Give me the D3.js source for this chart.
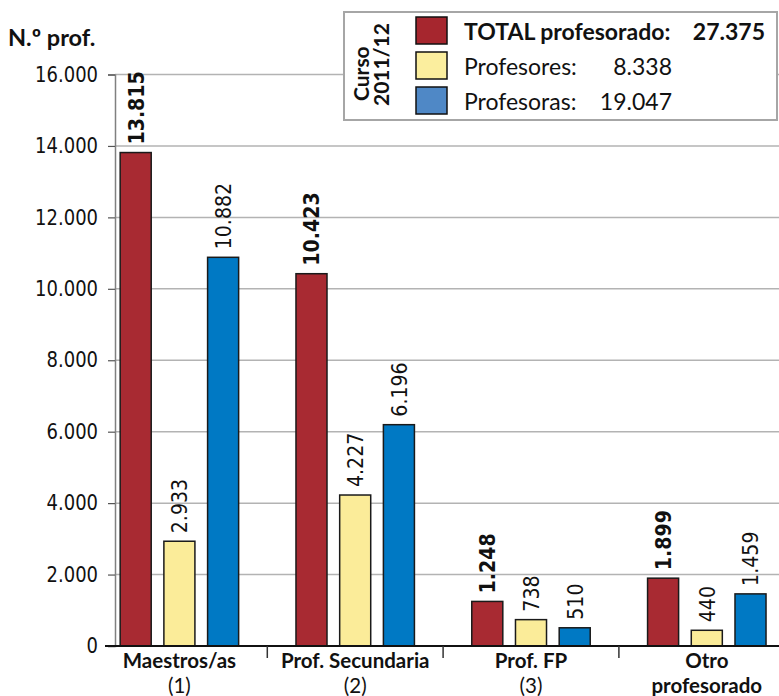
<!DOCTYPE html>
<html><head><meta charset="utf-8">
<script src="https://cdn.jsdelivr.net/npm/d3@7"></script>
<style>html,body{margin:0;padding:0;background:#fff;} svg{display:block;}</style>
</head><body><svg id="chart" width="779" height="696"></svg>
<script>
// ---- data ----
const categories = ["Maestros/as", "Prof. Secundaria", "Prof. FP", "Otro"];
const categorySub = ["(1)", "(2)", "(3)", "profesorado"];
const seriesNames = ["TOTAL profesorado:", "Profesores:", "Profesoras:"];
const totalValues = [13815, 10423, 1248, 1899];
const profesoresValues = [2933, 4227, 738, 440];
const profesorasValues = [10882, 6196, 510, 1459];
const legendValues = ["27.375", "8.338", "19.047"];
const yTicks = [0, 2000, 4000, 6000, 8000, 10000, 12000, 14000, 16000];
const yTitle = "N.º prof.";
const legendTitle = ["Curso", "2011/12"];

// ---- styles ----
const barColors = ["#A82A32", "#FBEC99", "#0079C4"];
const legendColors = ["#A6262E", "#FBEE9E", "#4F88C6"];
const W = 779, H = 696;
const S = 1.15; // glyph vertical stretch seen in reference
const calibri = "Lato, 'Open Sans', sans-serif";
const dejavu = "'DejaVu Sans', Verdana, sans-serif";

const locale = d3.formatLocale({decimal: ",", thousands: ".", grouping: [3], currency: ["", ""]});
const fmt = locale.format(",d");

const svg = d3.select("#chart");
const series = [totalValues, profesoresValues, profesorasValues];

const y = d3.scaleLinear().domain([0, 16000]).range([646, 74.5]);
const x = d3.scaleBand().domain(categories).range([91.5, 794.7]);
const xi = d3.scaleBand().domain([0, 1, 2]).range([0, x.bandwidth()]).paddingInner(0.29).paddingOuter(0.656);
const axisX = 115;

// gridlines
svg.append("g").selectAll("line").data(yTicks.filter(d => d > 0)).join("line")
  .attr("x1", axisX).attr("x2", W).attr("y1", d => y(d)).attr("y2", d => y(d))
  .attr("stroke", "#b3b3b3").attr("stroke-width", 1.5);

// y axis
const yAxis = d3.axisLeft(y).tickValues(yTicks).tickSize(7).tickPadding(10).tickFormat(d => fmt(d));
const gy = svg.append("g").attr("transform", `translate(${axisX},0)`).call(yAxis);
gy.select(".domain").attr("stroke", "#808080").attr("stroke-width", 1.5);
gy.selectAll(".tick line").attr("stroke", "#555").attr("stroke-width", 1.2);
gy.selectAll(".tick text").attr("font-family", dejavu).attr("font-size", 18).attr("fill", "#111")
  .attr("transform", `scale(1,${S})`);

// bars
series.forEach((vals, si) => {
  svg.append("g").selectAll("rect").data(categories).join("rect")
    .attr("x", (c) => x(c) + xi(si))
    .attr("width", xi.bandwidth())
    .attr("y", (c, i) => y(vals[i]))
    .attr("height", (c, i) => y(0) - y(vals[i]))
    .attr("fill", barColors[si]).attr("stroke", "#1a1a1a").attr("stroke-width", 1.5);
  svg.append("g").selectAll("text").data(categories).join("text")
    .attr("transform", (c, i) => `translate(${x(c) + xi(si) + xi.bandwidth() / 2},${y(vals[i]) - 8}) rotate(-90) scale(1,${S})`)
    .attr("dy", "0.36em")
    .attr("font-family", dejavu).attr("font-size", 19)
    .attr("font-weight", si === 0 ? "bold" : "normal")
    .attr("fill", "#111")
    .text((c, i) => fmt(vals[i]));
});

// baseline
svg.append("line").attr("x1", 105).attr("x2", W).attr("y1", y(0)).attr("y2", y(0))
  .attr("stroke", "#111").attr("stroke-width", 2);

// category separators
svg.append("g").selectAll("line").data(categories.slice(1)).join("line")
  .attr("x1", c => x(c)).attr("x2", c => x(c)).attr("y1", y(0)).attr("y2", y(0) + 12)
  .attr("stroke", "#333").attr("stroke-width", 1.5);

// category labels
const cl = svg.append("g").selectAll("text").data(categories).join("text")
  .attr("x", c => x(c) + x.bandwidth() / 2).attr("text-anchor", "middle")
  .attr("font-family", calibri).attr("font-size", 20.5).attr("fill", "#111");
cl.append("tspan").attr("y", 667.5).attr("font-weight", "bold").text(c => c);
cl.append("tspan").attr("x", c => x(c) + x.bandwidth() / 2).attr("y", 692.5)
  .attr("font-weight", (c, i) => i === 3 ? "bold" : "normal").text((c, i) => categorySub[i]);

// y title
svg.append("text").attr("x", 8).attr("y", 46).attr("font-family", calibri)
  .attr("font-size", 23.5).attr("font-weight", "bold").attr("fill", "#111").text(yTitle);

// legend
const lg = svg.append("g");
lg.append("rect").attr("x", 344).attr("y", 12).attr("width", 433).attr("height", 108)
  .attr("fill", "#fff").attr("stroke", "#a6a6a6").attr("stroke-width", 2);
legendTitle.forEach((t, i) => {
  lg.append("text").attr("transform", `translate(${369 + i * 20},${101 + i * 5}) rotate(-90)`)
    .attr("font-family", calibri).attr("font-size", 21).attr("font-weight", "bold").attr("fill", "#111").text(t);
});
seriesNames.forEach((n, i) => {
  lg.append("rect").attr("x", 416).attr("y", 17 + i * 35).attr("width", 31).attr("height", 27)
    .attr("fill", legendColors[i]).attr("stroke", "#111").attr("stroke-width", 1.5);
  lg.append("text").attr("x", 464).attr("y", 39.5 + i * 35)
    .attr("font-family", calibri).attr("font-size", 23).attr("font-weight", i === 0 ? "bold" : "normal")
    .attr("fill", "#111").text(n);
  lg.append("text").attr("x", i === 0 ? 765 : 672).attr("y", 39.5 + i * 35).attr("text-anchor", "end")
    .attr("font-family", calibri).attr("font-size", 23).attr("font-weight", i === 0 ? "bold" : "normal")
    .attr("fill", "#111").text(legendValues[i]);
});
</script></body></html>
